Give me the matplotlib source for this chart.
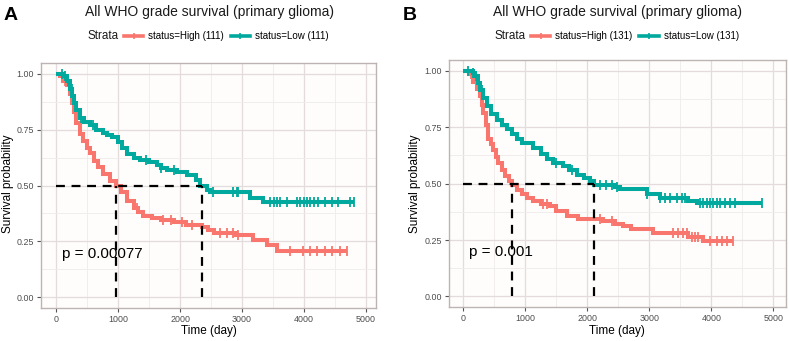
import numpy as np
import matplotlib
matplotlib.use("Agg")
import matplotlib.pyplot as plt
from matplotlib.lines import Line2D

plt.rcParams['font.family'] = ['Liberation Sans', 'DejaVu Sans']

# ---------------- data ----------------
title = "All WHO grade survival (primary glioma)"
xticks = [0, 1000, 2000, 3000, 4000, 5000]
yticks = [0.00, 0.25, 0.50, 0.75, 1.00]

# Panel A
a_high_t = [0, 60, 120, 180, 225, 260, 290, 330, 387, 440, 500, 548, 620, 683, 760, 871, 968,
            1040, 1140, 1250, 1330, 1409, 1550, 1700, 1900, 2100, 2350, 2450, 2540, 2900, 3180, 3398, 3560]
a_high_s = [1.0, 0.99, 0.97, 0.95, 0.91, 0.87, 0.83, 0.78, 0.73, 0.70, 0.67, 0.645, 0.61, 0.585, 0.55, 0.52, 0.50,
            0.47, 0.43, 0.40, 0.38, 0.365, 0.355, 0.345, 0.335, 0.325, 0.315, 0.30, 0.287, 0.277, 0.257, 0.235, 0.205]
a_high_end = 4690
a_high_cens = [150, 300, 1300, 1729, 1860, 2030, 2200, 2645, 2753, 2860, 2936, 3775, 3990, 4098, 4205,
               4340, 4450, 4581, 4690]

a_low_t = [0, 120, 180, 230, 253, 290, 330, 387, 450, 548, 650, 750, 817, 900, 1005, 1060, 1140, 1250,
           1355, 1500, 1624, 1700, 1785, 1950, 2108, 2250, 2323, 2431, 2484, 3129, 3344]
a_low_s = [1.0, 0.99, 0.97, 0.93, 0.90, 0.87, 0.84, 0.80, 0.785, 0.77, 0.75, 0.735, 0.725, 0.715, 0.695, 0.67,
           0.64, 0.625, 0.615, 0.605, 0.59, 0.58, 0.57, 0.56, 0.548, 0.525, 0.50, 0.478, 0.473, 0.444, 0.426]
a_low_end = 4800
a_low_cens = [100, 150, 200, 250, 400, 600, 1450, 1700, 1900, 2538, 2860, 2914, 2941, 3452, 3516, 3570,
              3613, 3731, 3883, 3936, 4001, 4044, 4098, 4162, 4232, 4340, 4450, 4550, 4742, 4800]

a_medians = [970, 2355]
a_p = "p = 0.00077"
a_n = (111, 111)

# Panel B
b_high_t = [0, 100, 161, 220, 269, 300, 323, 360, 403, 440, 484, 525, 565, 620, 672, 740, 780, 860, 941,
            1030, 1129, 1250, 1398, 1500, 1667, 1850, 2043, 2250, 2450, 2581, 2700, 3065, 3630, 3872]
b_high_s = [1.0, 0.985, 0.95, 0.92, 0.89, 0.85, 0.815, 0.76, 0.70, 0.675, 0.65, 0.62, 0.59, 0.56, 0.535, 0.51,
            0.496, 0.47, 0.452, 0.435, 0.422, 0.41, 0.40, 0.38, 0.356, 0.345, 0.341, 0.334, 0.322, 0.311,
            0.297, 0.282, 0.262, 0.245]
b_high_end = 4355
b_high_cens = [120, 250, 1290, 1350, 2205, 2400, 3387, 3470, 3550, 3603, 3684, 3737, 3791, 3979, 4087,
               4168, 4248, 4355]

b_low_t = [0, 150, 189, 230, 269, 320, 377, 450, 538, 620, 700, 780, 861, 950, 1129, 1250, 1344, 1450,
           1613, 1700, 1828, 1950, 2043, 2113, 2450, 2527, 2958, 3173, 3630, 3765]
b_low_s = [1.0, 0.99, 0.975, 0.945, 0.915, 0.88, 0.843, 0.81, 0.784, 0.76, 0.74, 0.72, 0.696, 0.68, 0.66,
           0.63, 0.607, 0.59, 0.577, 0.56, 0.54, 0.525, 0.511, 0.496, 0.485, 0.474, 0.452, 0.437, 0.422, 0.415]
b_low_end = 4813
b_low_cens = [80, 160, 210, 300, 1500, 1750, 2205, 2300, 2400, 2473, 2958, 3173, 3253, 3334, 3442, 3522,
              3576, 3818, 3872, 3926, 3979, 4033, 4087, 4141, 4221, 4302, 4382, 4813]

b_medians = [780, 2113]
b_p = "p = 0.001"
b_n = (131, 131)

RED = '#F8766D'
TEAL = '#00A99D'

# ---------------- figure ----------------
fig = plt.figure(figsize=(7.89, 3.41), dpi=100)


def surv_at(times, surv, x):
    idx = np.searchsorted(np.asarray(times), np.asarray(x), side='right') - 1
    return np.asarray(surv)[idx]


def draw_curve(ax, t, s, end, cens, color):
    tt = list(t) + [end]
    ss = list(s) + [s[-1]]
    ax.step(tt, ss, where='post', color=color, lw=2.9, solid_joinstyle='miter',
            solid_capstyle='butt', zorder=3)
    ax.plot(cens, surv_at(t, s, cens), linestyle='none', marker='|', ms=6.5, mew=1.3,
            color=color, zorder=3)


def panel(rect, xlim, letter, letter_x, title_x, leg_x, ylab_x,
          high, low, medians, ptxt, n):
    ax = fig.add_axes(rect)
    ax.set_facecolor('#fefdfb')
    ax.set_xlim(*xlim)
    ax.set_ylim(-0.048, 1.048)
    ax.set_xticks(xticks)
    ax.set_yticks(yticks)
    ax.set_yticklabels([f"{v:.2f}" for v in yticks])
    ax.set_xticks(np.arange(500, 5000, 1000), minor=True)
    ax.set_yticks([0.125, 0.375, 0.625, 0.875], minor=True)
    ax.grid(True, which='major', color='#e4dcdc', lw=0.9, zorder=0)
    ax.grid(True, which='minor', color='#f0ebeb', lw=0.6, zorder=0)
    ax.tick_params(which='major', length=3, width=0.8, color='#555555',
                   labelsize=6.4, labelcolor='#4d4d4d', pad=2)
    ax.tick_params(which='minor', length=0)
    for sp in ax.spines.values():
        sp.set_color('#bdb3b3')
        sp.set_linewidth(1.0)
    ax.set_axisbelow(True)

    draw_curve(ax, *high, RED)
    draw_curve(ax, *low, TEAL)

    # median lines
    ax.plot([0, max(medians)], [0.5, 0.5], color='black', lw=1.6, ls=(0, (4, 3)), zorder=4)
    for m in medians:
        ax.plot([m, m], [0, 0.5], color='black', lw=1.6, ls=(0, (4, 3)), zorder=4)

    ax.text(100, 0.195, ptxt, fontsize=11, ha='left', va='center', zorder=5)
    ax.set_xlabel("Time (day)", fontsize=8.5, labelpad=1)
    ax.set_ylabel("Survival probability", fontsize=8.5, labelpad=2)
    ax.yaxis.set_label_coords(ylab_x, 0.46, transform=fig.transFigure)

    fig.text(letter_x, 0.955, letter, fontsize=14, fontweight='bold', ha='left', va='center')
    fig.text(title_x, 0.966, title, fontsize=10, ha='center', va='center', color='#1a1a1a')
    fig.text(leg_x, 0.893, "Strata", fontsize=8.4, ha='left', va='center', color='#1a1a1a')
    handles = [Line2D([], [], color=RED, lw=2.6, marker='|', ms=5, mew=1.2),
               Line2D([], [], color=TEAL, lw=2.6, marker='|', ms=5, mew=1.2)]
    labels = [f"status=High ({n[0]})", f"status=Low ({n[1]})"]
    fig.legend(handles, labels, ncol=2, loc='center left',
               bbox_to_anchor=(leg_x + 0.046, 0.893), frameon=False, fontsize=7,
               handlelength=2.0, handletextpad=0.5, columnspacing=0.7, borderpad=0,
               borderaxespad=0)
    return ax


panel([0.052, 0.097, 0.4245, 0.718], (-242, 5160), "A", 0.004, 0.265, 0.111, 0.018,
      (a_high_t, a_high_s, a_high_end, a_high_cens),
      (a_low_t, a_low_s, a_low_end, a_low_cens), a_medians, a_p, a_n)
panel([0.569, 0.099, 0.427, 0.725], (-231, 5202), "B", 0.511, 0.783, 0.627, 0.5335,
      (b_high_t, b_high_s, b_high_end, b_high_cens),
      (b_low_t, b_low_s, b_low_end, b_low_cens), b_medians, b_p, b_n)

fig.savefig("out.png", dpi=100)
